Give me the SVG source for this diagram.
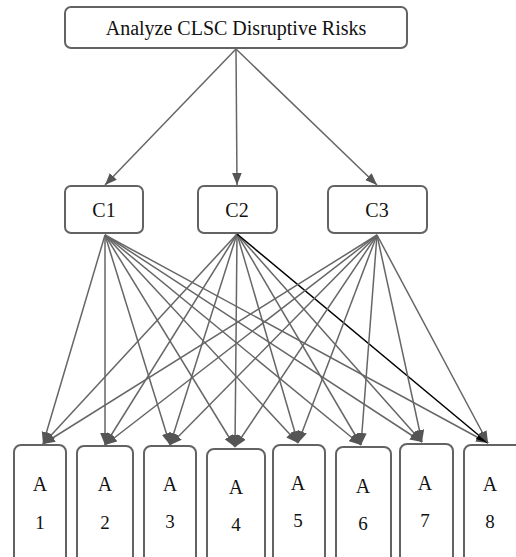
<svg xmlns="http://www.w3.org/2000/svg" width="516" height="557" viewBox="0 0 516 557">
<style>
.box{fill:#fff;stroke:#636363;stroke-width:2}
.t{font-family:"Liberation Serif","DejaVu Serif",serif;fill:#111;text-anchor:middle}
.e{stroke:#666;stroke-width:1.5;fill:none;marker-end:url(#ah)}
.k{stroke:#000;stroke-width:1.5;fill:none;marker-end:url(#ahk)}
</style>
<defs>
<marker id="ah" markerUnits="userSpaceOnUse" viewBox="0 0 10 8" refX="10" refY="4" markerWidth="12" markerHeight="10" orient="auto"><path d="M0,0L10,4L0,8z" fill="#555"/></marker>
<marker id="ahk" markerUnits="userSpaceOnUse" viewBox="0 0 10 8" refX="10" refY="4" markerWidth="12" markerHeight="10" orient="auto"><path d="M0,0L10,4L0,8z" fill="#000"/></marker>
</defs>
<rect width="516" height="557" fill="#fff"/>
<g id="connectors">
<line class="e" x1="236" y1="49" x2="105" y2="185"/>
<line class="e" x1="236" y1="49" x2="237" y2="185"/>
<line class="e" x1="236" y1="49" x2="377" y2="185"/>
<line class="e" x1="105" y1="235" x2="43" y2="444"/>
<line class="e" x1="105" y1="235" x2="105" y2="445"/>
<line class="e" x1="105" y1="235" x2="170" y2="445"/>
<line class="e" x1="105" y1="235" x2="235" y2="447"/>
<line class="e" x1="105" y1="235" x2="298" y2="443"/>
<line class="e" x1="105" y1="235" x2="361" y2="445"/>
<line class="e" x1="105" y1="235" x2="422" y2="442"/>
<line class="e" x1="105" y1="235" x2="488" y2="443"/>
<line class="e" x1="237" y1="234" x2="43" y2="444"/>
<line class="e" x1="237" y1="234" x2="105" y2="445"/>
<line class="e" x1="237" y1="234" x2="170" y2="445"/>
<line class="e" x1="237" y1="234" x2="235" y2="447"/>
<line class="e" x1="237" y1="234" x2="298" y2="443"/>
<line class="e" x1="237" y1="234" x2="361" y2="445"/>
<line class="e" x1="237" y1="234" x2="422" y2="442"/>
<line class="k" x1="237" y1="234" x2="488" y2="443"/>
<line class="e" x1="377" y1="235" x2="43" y2="444"/>
<line class="e" x1="377" y1="235" x2="105" y2="445"/>
<line class="e" x1="377" y1="235" x2="170" y2="445"/>
<line class="e" x1="377" y1="235" x2="235" y2="447"/>
<line class="e" x1="377" y1="235" x2="298" y2="443"/>
<line class="e" x1="377" y1="235" x2="361" y2="445"/>
<line class="e" x1="377" y1="235" x2="422" y2="442"/>
<line class="e" x1="377" y1="235" x2="488" y2="443"/>
</g>
<g id="root"><rect class="box" x="65" y="7" width="342" height="41" rx="6"/><text class="t" x="236" y="35" font-size="20">Analyze CLSC Disruptive Risks</text></g>
<g id="C1"><rect class="box" x="65" y="186" width="78" height="47" rx="6"/><text class="t" x="104" y="217" font-size="20">C1</text></g>
<g id="C2"><rect class="box" x="198" y="186" width="79" height="47" rx="6"/><text class="t" x="237" y="217" font-size="20">C2</text></g>
<g id="C3"><rect class="box" x="328" y="186" width="99" height="47" rx="6"/><text class="t" x="377" y="217" font-size="20">C3</text></g>
<g id="A1"><rect class="box" x="14" y="445" width="52" height="120" rx="7"/><text class="t" x="40" y="491" font-size="20">A</text><text class="t" x="40" y="529" font-size="19">1</text></g>
<g id="A2"><rect class="box" x="77" y="446" width="56" height="120" rx="7"/><text class="t" x="105" y="491" font-size="20">A</text><text class="t" x="105" y="529" font-size="19">2</text></g>
<g id="A3"><rect class="box" x="144" y="446" width="52" height="120" rx="7"/><text class="t" x="170" y="491" font-size="20">A</text><text class="t" x="170" y="528" font-size="19">3</text></g>
<g id="A4"><rect class="box" x="207" y="449" width="58" height="120" rx="7"/><text class="t" x="236" y="494" font-size="20">A</text><text class="t" x="236" y="531" font-size="19">4</text></g>
<g id="A5"><rect class="box" x="273" y="445" width="52" height="120" rx="7"/><text class="t" x="298" y="490" font-size="20">A</text><text class="t" x="298" y="527" font-size="19">5</text></g>
<g id="A6"><rect class="box" x="336" y="447" width="55" height="120" rx="7"/><text class="t" x="363" y="493" font-size="20">A</text><text class="t" x="363" y="530" font-size="19">6</text></g>
<g id="A7"><rect class="box" x="400" y="444" width="53" height="120" rx="7"/><text class="t" x="425" y="490" font-size="20">A</text><text class="t" x="425" y="527" font-size="19">7</text></g>
<g id="A8"><rect class="box" x="464" y="445" width="60" height="120" rx="7"/><text class="t" x="490" y="491" font-size="20">A</text><text class="t" x="490" y="528" font-size="19">8</text></g>
</svg>
